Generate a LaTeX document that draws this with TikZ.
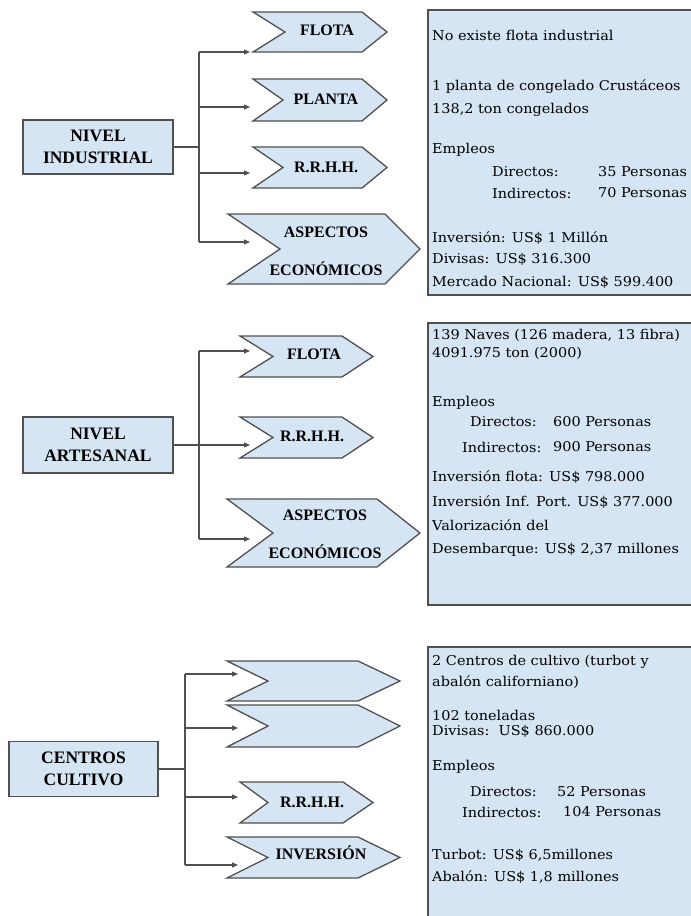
\documentclass[tikz,border=0pt]{standalone}
\usepackage{fontspec}
\setmainfont{DejaVu Serif}
\newfontfamily\infofont[FakeStretch=1.07]{DejaVu Serif}
\newfontfamily\labfont{Liberation Serif}
\usetikzlibrary{arrows.meta}
\definecolor{fillb}{RGB}{214,229,243}
\definecolor{edgec}{RGB}{80,80,80}
\tikzset{
 titlebox/.style={draw=edgec, line width=1.4pt, fill=fillb, align=center, inner sep=0pt,
   font=\labfont\bfseries\fontsize{17.5}{22}\selectfont},
 chevshape/.style={draw=edgec, line width=1.3pt, fill=fillb, line join=miter},
 chevtext/.style={align=center, inner sep=0pt, font=\labfont\bfseries\fontsize{16}{38}\selectfont},
 infobox/.style={draw=edgec, line width=1.5pt, fill=fillb},
 info/.style={anchor=west, inner sep=0pt, font=\infofont\fontsize{13.5}{15}\selectfont},
 conn/.style={draw=edgec, line width=1.2pt},
 arr/.style={conn, -{Triangle[length=6pt,width=5pt]}},
}
% name, xl, xn, xr, xt, ytop, ybot, text position, text
\newcommand\chev[9]{%
 \draw[chevshape] (#2,#6) -- (#4,#6) -- (#5,{(#6+#7)/2}) -- (#4,#7) -- (#2,#7) -- (#3,{(#6+#7)/2}) -- cycle;
 \node[chevtext] (#1) at (#8) {#9};}
\begin{document}
\begin{tikzpicture}[x=1pt,y=-1pt]
\useasboundingbox (0,0) rectangle (691,916);
\clip (0,0) rectangle (691,916);
\fill[white] (0,0) rectangle (691,916);

% ---------- Section 1 ----------
\node[titlebox, minimum width=150pt, minimum height=54pt] (t1) at (98,147) {NIVEL\\INDUSTRIAL};
\chev{c1a}{253}{285}{362}{387}{12}{52}{327,30}{FLOTA}
\chev{c1b}{253}{283}{362}{387}{79}{121}{326,99}{PLANTA}
\chev{c1c}{253}{283}{362}{387}{147}{188}{326,167}{R.R.H.H.}
\chev{c1d}{228}{280}{385}{420}{214}{284}{326,251}{ASPECTOS\\ECONÓMICOS}
\coordinate (j1) at (199,147);
\coordinate (b1a) at (199,52);  \coordinate (e1a) at (250,52);
\coordinate (b1b) at (199,107); \coordinate (e1b) at (250,107);
\coordinate (b1c) at (199,173); \coordinate (e1c) at (250,173);
\coordinate (b1d) at (199,242); \coordinate (e1d) at (250,242);
\draw[conn] (t1.east) -- (j1);
\draw[conn] (b1a) -- (b1d);
\draw[arr] (b1a) -- (e1a);
\draw[arr] (b1b) -- (e1b);
\draw[arr] (b1c) -- (e1c);
\draw[arr] (b1d) -- (e1d);

\draw[infobox] (428,10) rectangle (700,295);
\node[info] (i1a) at (432,35) {No existe flota industrial};
\node[info] (i1b) at (432,87) {1 planta de congelado Crustáceos};
\node[info] (i1c) at (432,110) {138,2 ton congelados};
\node[info] (i1d) at (432,150) {Empleos};
\node[info] (i1e) at (492,172) {Directos:};
\node[info] (i1f) at (598,172) {35 Personas};
\node[info] (i1g) at (492,193) {Indirectos:};
\node[info] (i1h) at (598,193) {70 Personas};
\node[info] (i1i) at (432,238) {Inversión: US\$ 1 Millón};
\node[info] (i1j) at (432,259) {Divisas: US\$ 316.300};
\node[info] (i1k) at (432,282) {Mercado Nacional: US\$ 599.400};

% ---------- Section 2 ----------
\node[titlebox, minimum width=150pt, minimum height=56pt] (t2) at (98,445) {NIVEL\\ARTESANAL};
\chev{c2a}{240}{273}{342}{373}{336}{377}{314,354}{FLOTA}
\chev{c2b}{240}{273}{342}{373}{417}{458}{312,436}{R.R.H.H.}
\chev{c2c}{227}{273}{377}{420}{499}{567}{325,534}{ASPECTOS\\ECONÓMICOS}
\coordinate (b2a) at (199,351); \coordinate (e2a) at (250,351);
\coordinate (e2b) at (250,445);
\coordinate (b2c) at (199,539); \coordinate (e2c) at (250,539);
\draw[conn] (b2a) -- (b2c);
\draw[arr] (t2.east) -- (e2b);
\draw[arr] (b2a) -- (e2a);
\draw[arr] (b2c) -- (e2c);

\draw[infobox] (428,323) rectangle (700,605);
\node[info] (i2a) at (432,335) {139 Naves (126 madera, 13 fibra)};
\node[info] (i2b) at (432,353) {4091.975 ton (2000)};
\node[info] (i2c) at (432,403) {Empleos};
\node[info] (i2d) at (470,422) {Directos:};
\node[info] (i2e) at (553,422) {600 Personas};
\node[info] (i2f) at (462,447) {Indirectos:};
\node[info] (i2g) at (553,447) {900 Personas};
\node[info] (i2h) at (432,477) {Inversión flota: US\$ 798.000};
\node[info] (i2i) at (432,502) {Inversión Inf. Port. US\$ 377.000};
\node[info] (i2j) at (432,525) {Valorización del};
\node[info] (i2k) at (432,550) {Desembarque: US\$ 2,37 millones};

% ---------- Section 3 ----------
\node[titlebox, minimum width=149pt, minimum height=55pt] (t3) at (83.5,769) {CENTROS\\CULTIVO};
\chev{c3a}{227}{268}{358}{400}{661}{701}{313,681}{}
\chev{c3b}{227}{268}{358}{400}{705}{747}{313,726}{}
\chev{c3c}{240}{268}{343}{373}{782}{823}{312,802}{R.R.H.H.}
\chev{c3d}{227}{268}{358}{400}{837}{878}{321,853}{INVERSIÓN}
\coordinate (j3) at (185,769);
\coordinate (b3a) at (185,674); \coordinate (e3a) at (238,674);
\coordinate (b3b) at (185,728); \coordinate (e3b) at (238,728);
\coordinate (b3c) at (185,797); \coordinate (e3c) at (238,797);
\coordinate (b3d) at (185,865); \coordinate (e3d) at (238,865);
\draw[conn] (t3.east) -- (j3);
\draw[conn] (b3a) -- (b3d);
\draw[arr] (b3a) -- (e3a);
\draw[arr] (b3b) -- (e3b);
\draw[arr] (b3c) -- (e3c);
\draw[arr] (b3d) -- (e3d);

\draw[infobox] (428,647) rectangle (700,925);
\node[info] (i3a) at (432,662) {2 Centros de cultivo (turbot y};
\node[info] (i3b) at (432,682) {abalón californiano)};
\node[info] (i3c) at (432,715) {102 toneladas};
\node[info] (i3d) at (432,731) {Divisas:\ \ US\$ 860.000};
\node[info] (i3e) at (432,767) {Empleos};
\node[info] (i3f) at (470,792) {Directos:};
\node[info] (i3g) at (557,792) {52 Personas};
\node[info] (i3h) at (462,812) {Indirectos:};
\node[info] (i3i) at (563,812) {104 Personas};
\node[info] (i3j) at (432,855) {Turbot: US\$ 6,5millones};
\node[info] (i3k) at (432,877) {Abalón: US\$ 1,8 millones};
\end{tikzpicture}
\end{document}
